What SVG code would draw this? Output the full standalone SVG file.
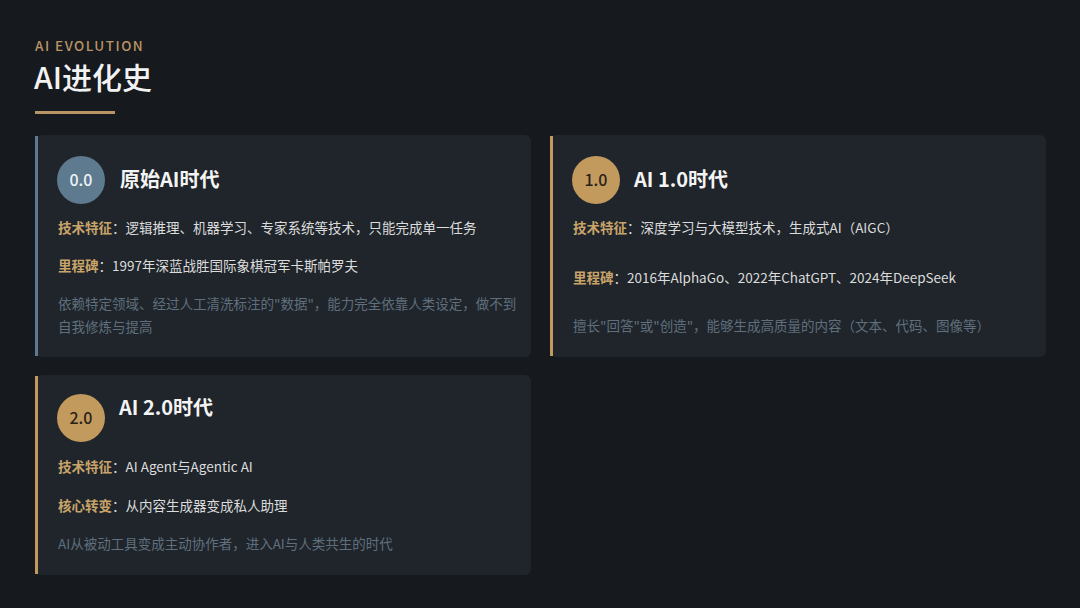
<svg xmlns="http://www.w3.org/2000/svg" width="1080" height="608" viewBox="0 0 1080 608">
<defs>
<style>
.bg{fill:#16191e}
.card{fill:#1f252b}
.t{font-family:"Noto Sans CJK SC","Noto Sans",sans-serif}
.eyebrow{font-size:13.5px;fill:#b99565;letter-spacing:1.5px;font-weight:500}
.h1{font-size:30px;fill:#f2f2f2;font-weight:500}
.title{font-size:20px;fill:#f4f4f4;font-weight:700}
.num{font-size:16px;font-weight:500;text-anchor:middle}
.lab{font-size:13.5px;fill:#c9a46a;font-weight:700}
.txt{font-size:13.5px;fill:#dcdcdc}
.desc{font-size:13.5px;fill:#5f6f7d}
</style>
</defs>
<rect class="bg" x="0" y="0" width="1080" height="608"/>
<g id="header">
<text class="t eyebrow" x="35" y="51">AI EVOLUTION</text>
<text class="t h1" x="34" y="89">AI进化史</text>
<rect x="35" y="111" width="80" height="3" fill="#b99565"/>
</g>
<g id="card-0">
<rect class="card" x="35" y="135" width="496" height="222" rx="6"/>
<rect x="35" y="136" width="3" height="220" fill="#5e7a8e"/>
<circle cx="81" cy="180" r="24" fill="#5e7a8e"/>
<text class="t num" x="81" y="186" fill="#eef2f5">0.0</text>
<text class="t title" x="120" y="187">原始AI时代</text>
<text class="t" x="58" y="233"><tspan class="lab">技术特征</tspan><tspan class="txt">：逻辑推理、机器学习、专家系统等技术，只能完成单一任务</tspan></text>
<text class="t" x="58" y="271"><tspan class="lab">里程碑</tspan><tspan class="txt">：1997年深蓝战胜国际象棋冠军卡斯帕罗夫</tspan></text>
<text class="t desc" x="58" y="309">依赖特定领域、经过人工清洗标注的"数据"，能力完全依靠人类设定，做不到</text>
<text class="t desc" x="58" y="332">自我修炼与提高</text>
</g>
<g id="card-1">
<rect class="card" x="550" y="135" width="496" height="222" rx="6"/>
<rect x="550" y="136" width="3" height="220" fill="#c29a5e"/>
<circle cx="596" cy="180" r="24" fill="#c29a5e"/>
<text class="t num" x="596" y="186" fill="#2a2218">1.0</text>
<text class="t title" x="634" y="187">AI 1.0时代</text>
<text class="t" x="573" y="233"><tspan class="lab">技术特征</tspan><tspan class="txt">：深度学习与大模型技术，生成式AI（AIGC）</tspan></text>
<text class="t" x="573" y="283"><tspan class="lab">里程碑</tspan><tspan class="txt">：2016年AlphaGo、2022年ChatGPT、2024年DeepSeek</tspan></text>
<text class="t desc" x="573" y="331">擅长"回答"或"创造"，能够生成高质量的内容（文本、代码、图像等）</text>
</g>
<g id="card-2">
<rect class="card" x="35" y="375" width="496" height="200" rx="6"/>
<rect x="35" y="376" width="3" height="198" fill="#c29a5e"/>
<circle cx="81" cy="418" r="24" fill="#c29a5e"/>
<text class="t num" x="81" y="424" fill="#2a2218">2.0</text>
<text class="t title" x="119" y="415">AI 2.0时代</text>
<text class="t" x="58" y="472"><tspan class="lab">技术特征</tspan><tspan class="txt">：AI Agent与Agentic AI</tspan></text>
<text class="t" x="58" y="511"><tspan class="lab">核心转变</tspan><tspan class="txt">：从内容生成器变成私人助理</tspan></text>
<text class="t desc" x="58" y="549">AI从被动工具变成主动协作者，进入AI与人类共生的时代</text>
</g>
<g id="connectors"/>
</svg>
